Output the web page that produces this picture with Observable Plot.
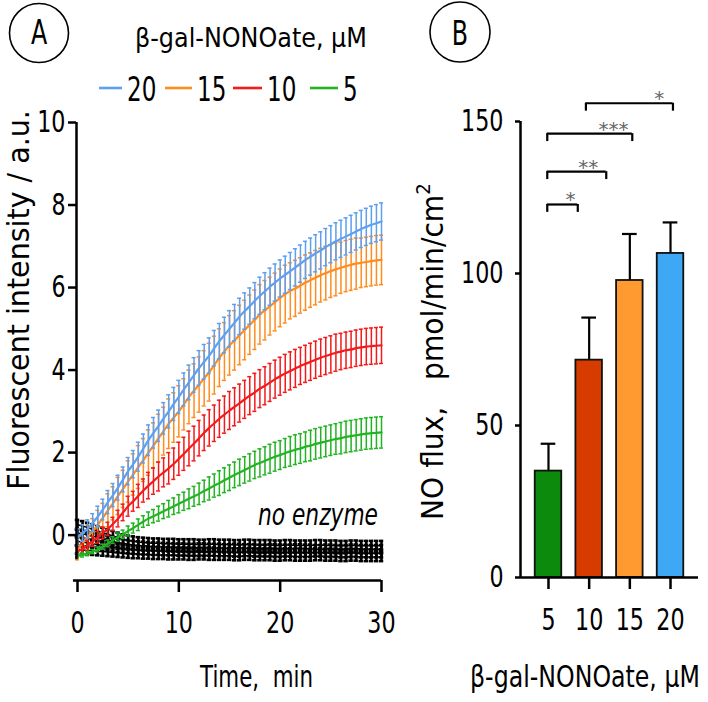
<!DOCTYPE html>
<html><head><meta charset="utf-8">
<script src="https://cdn.jsdelivr.net/npm/d3@7"></script>
<script src="https://cdn.jsdelivr.net/npm/@observablehq/plot@0.6"></script>
<style>
html,body{margin:0;padding:0;background:#fff;}
#wrap{position:relative;width:708px;height:702px;overflow:hidden;background:#fff;}
#wrap > svg{position:absolute;}
</style></head><body><div id="wrap"></div>
<script>
// ---------------- DATA ----------------
const times = d3.range(0, 30.001, 0.5); // sampling every 0.5 min
const concentrations = ["20", "15", "10", "5"];
const lineColors = ["#5e9ff0", "#ff8c1f", "#f21a1a", "#22b322"];

const mean20 = [-0.05,0.05,0.15,0.3,0.45,0.62,0.8,0.97,1.15,1.35,
  1.55,1.72,1.9,2.1,2.3,2.48,2.65,2.83,3.0,3.18,
  3.35,3.53,3.7,3.88,4.05,4.2,4.35,4.53,4.7,4.85,
  5.0,5.15,5.3,5.43,5.55,5.68,5.8,5.91,6.02,6.12,
  6.22,6.31,6.4,6.49,6.58,6.67,6.75,6.83,6.9,6.98,
  7.05,7.12,7.18,7.24,7.3,7.36,7.42,7.47,7.52,7.56,7.6];
const mean15 = [-0.35,-0.2,-0.05,0.1,0.25,0.42,0.6,0.77,0.95,1.12,
  1.3,1.47,1.65,1.82,2.0,2.17,2.35,2.52,2.7,2.85,
  3.0,3.17,3.35,3.5,3.65,3.8,3.95,4.12,4.3,4.45,
  4.6,4.72,4.85,4.97,5.1,5.22,5.35,5.45,5.55,5.65,
  5.75,5.84,5.92,5.98,6.05,6.12,6.18,6.24,6.3,6.35,
  6.4,6.44,6.48,6.52,6.55,6.58,6.6,6.62,6.64,6.66,6.67];
const mean10 = [-0.4,-0.33,-0.25,-0.15,-0.05,0.05,0.15,0.27,0.4,0.55,
  0.7,0.82,0.95,1.08,1.2,1.31,1.42,1.52,1.62,1.73,
  1.85,1.97,2.1,2.22,2.35,2.48,2.6,2.71,2.82,2.92,
  3.02,3.11,3.2,3.29,3.38,3.46,3.55,3.62,3.7,3.78,
  3.85,3.92,3.98,4.04,4.1,4.15,4.2,4.25,4.3,4.34,
  4.38,4.42,4.45,4.48,4.5,4.53,4.55,4.57,4.58,4.59,4.6];
const mean5 = [-0.5,-0.48,-0.45,-0.4,-0.35,-0.28,-0.2,-0.12,-0.05,0.02,
  0.1,0.17,0.25,0.33,0.4,0.46,0.52,0.58,0.64,0.7,
  0.76,0.82,0.88,0.94,1.0,1.07,1.13,1.2,1.26,1.33,
  1.39,1.46,1.52,1.58,1.64,1.7,1.75,1.8,1.85,1.9,
  1.94,1.99,2.03,2.07,2.1,2.14,2.17,2.21,2.24,2.27,
  2.3,2.33,2.35,2.38,2.4,2.42,2.44,2.46,2.47,2.48,2.49];

// SD read per whole minute (applies to both samples of that minute)
const sd20 = [0.2,0.22,0.25,0.28,0.3,0.33,0.35,0.37,0.38,0.4,0.4,0.42,0.42,0.43,0.43,0.44,0.44,0.44,0.45,0.45,0.45,0.45,0.45,0.45,0.45,0.45,0.45,0.45,0.45,0.45,0.45];
const sd15 = [0.25,0.3,0.35,0.4,0.45,0.5,0.52,0.55,0.58,0.6,0.62,0.65,0.67,0.7,0.7,0.72,0.72,0.72,0.72,0.7,0.7,0.68,0.67,0.66,0.65,0.64,0.62,0.62,0.6,0.6,0.6];
const sd10 = [0.12,0.12,0.14,0.16,0.2,0.24,0.28,0.32,0.35,0.38,0.4,0.42,0.43,0.44,0.45,0.46,0.46,0.46,0.46,0.46,0.46,0.46,0.45,0.45,0.45,0.45,0.44,0.44,0.44,0.44,0.44];
const sd5  = [0.05,0.05,0.06,0.08,0.1,0.12,0.14,0.16,0.18,0.2,0.22,0.24,0.26,0.28,0.3,0.31,0.32,0.33,0.34,0.35,0.35,0.36,0.36,0.37,0.37,0.37,0.38,0.38,0.38,0.38,0.38];

// "no enzyme" controls
const noEnz1 = [0.25,0.22,0.18,0.14,0.10,0.06,0.02,-0.02,-0.06,-0.10,
  -0.13,-0.15,-0.17,-0.18,-0.19,-0.20,-0.20,-0.21,-0.21,-0.21,
  -0.22,-0.22,-0.22,-0.22,-0.23,-0.23,-0.22,-0.22,-0.23,-0.23,
  -0.23,-0.24,-0.24,-0.23,-0.23,-0.24,-0.24,-0.24,-0.24,-0.25,
  -0.25,-0.24,-0.24,-0.25,-0.25,-0.25,-0.25,-0.24,-0.24,-0.25,
  -0.25,-0.25,-0.26,-0.26,-0.25,-0.25,-0.26,-0.26,-0.26,-0.26,-0.26];
const noEnz2 = [0.05,0.03,0.0,-0.03,-0.06,-0.09,-0.12,-0.15,-0.18,-0.2,
  -0.22,-0.24,-0.25,-0.26,-0.27,-0.28,-0.28,-0.29,-0.29,-0.3,
  -0.3,-0.3,-0.31,-0.31,-0.3,-0.3,-0.31,-0.31,-0.31,-0.32,
  -0.32,-0.31,-0.31,-0.32,-0.32,-0.32,-0.33,-0.33,-0.32,-0.32,
  -0.33,-0.33,-0.33,-0.32,-0.32,-0.33,-0.33,-0.34,-0.34,-0.33,
  -0.33,-0.34,-0.34,-0.34,-0.33,-0.33,-0.34,-0.34,-0.34,-0.34,-0.34];
const noEnz3 = [-0.15,-0.17,-0.19,-0.21,-0.23,-0.25,-0.27,-0.29,-0.31,-0.33,
  -0.34,-0.35,-0.36,-0.37,-0.37,-0.38,-0.38,-0.39,-0.39,-0.39,
  -0.4,-0.4,-0.4,-0.4,-0.41,-0.41,-0.4,-0.4,-0.41,-0.41,
  -0.41,-0.42,-0.42,-0.41,-0.41,-0.42,-0.42,-0.42,-0.42,-0.43,
  -0.43,-0.42,-0.42,-0.43,-0.43,-0.43,-0.43,-0.42,-0.42,-0.43,
  -0.43,-0.43,-0.44,-0.44,-0.43,-0.43,-0.44,-0.44,-0.44,-0.44,-0.44];
const noEnz4 = [-0.35,-0.36,-0.37,-0.38,-0.39,-0.4,-0.41,-0.42,-0.43,-0.44,
  -0.45,-0.46,-0.46,-0.47,-0.47,-0.48,-0.48,-0.48,-0.49,-0.49,
  -0.49,-0.49,-0.5,-0.5,-0.49,-0.49,-0.5,-0.5,-0.5,-0.5,
  -0.5,-0.51,-0.51,-0.5,-0.5,-0.51,-0.51,-0.51,-0.51,-0.52,
  -0.52,-0.51,-0.51,-0.52,-0.52,-0.52,-0.52,-0.51,-0.51,-0.52,
  -0.52,-0.52,-0.53,-0.53,-0.52,-0.52,-0.53,-0.53,-0.53,-0.53,-0.53];
const noEnzSd = [0.12, 0.1, 0.1, 0.1];

// Panel B: NO flux bars
const barConc = [5, 10, 15, 20];
const barMean = [35, 71.5, 97.7, 106.6];
const barErr  = [9, 14, 15.3, 10.2];
const barColors = ["#0b8a0b", "#d63c00", "#ff9a30", "#3ea8f4"];
const tickLabelsB = ["5", "10", "15", "20"];
const brackets = [
  {from: 4.85, to: 8.6,  level: 122.7, label: "*",   at: 7.7},
  {from: 4.85, to: 12.1, level: 133.5, label: "**",  at: 9.9},
  {from: 4.85, to: 15.3, level: 146,   label: "***", at: 13},
  {from: 9.6,  to: 20.3, level: 156,   label: "*",   at: 18.6}
];

// ---------------- LAYOUT ----------------
const FONT = '"DejaVu Sans", sans-serif';
const wrap = document.getElementById("wrap");

const means = {"20": mean20, "15": mean15, "10": mean10, "5": mean5};
const sds = {"20": sd20, "15": sd15, "10": sd10, "5": sd5};
const colorOf = Object.fromEntries(concentrations.map((c, i) => [c, lineColors[i]]));

function rowsFor(meanArr, sdFn) {
  return meanArr.map((m, i) => ({t: times[i], mean: m, sd: sdFn(i)}));
}
function seriesMarks(rows, color, barW, capHalf, lineW) {
  return [
    Plot.ruleX(rows, {x: "t", y1: d => d.mean - d.sd, y2: d => d.mean + d.sd, stroke: color, strokeWidth: barW}),
    Plot.ruleY(rows, {y: d => d.mean + d.sd, x1: d => d.t - capHalf, x2: d => d.t + capHalf, stroke: color, strokeWidth: barW}),
    Plot.ruleY(rows, {y: d => d.mean - d.sd, x1: d => d.t - capHalf, x2: d => d.t + capHalf, stroke: color, strokeWidth: barW}),
    Plot.line(rows, {x: "t", y: "mean", stroke: color, strokeWidth: lineW, curve: "monotone-x"})
  ];
}

const blackMarks = [noEnz1, noEnz2, noEnz3, noEnz4].flatMap((arr, k) =>
  seriesMarks(rowsFor(arr, () => noEnzSd[k]), "#000", 2.6, 0.22, 1.5));

const drawOrder = ["15", "20", "10", "5"];
const colorMarks = drawOrder.flatMap(c =>
  seriesMarks(rowsFor(means[c], i => sds[c][Math.floor(i / 2)]), colorOf[c], 1.5, 0.2, 2.2));

const axisFont = {fontFamily: FONT, fontSize: 30};
const yDomA = [-1.1, 10];
const plotA = Plot.plot({
  width: 420, height: 702,
  marginLeft: 77, marginRight: 39, marginTop: 122, marginBottom: 122,
  x: {domain: [0, 30]},
  y: {domain: yDomA},
  style: {fontFamily: FONT, fontSize: "30px", color: "#000", background: "transparent"},
  marks: [
    ...blackMarks,
    ...colorMarks,
    Plot.ruleY([yDomA[0]], {x1: -0.4, x2: 30, stroke: "#000", strokeWidth: 2.5}),
    Plot.ruleX([0], {y1: -0.6, y2: 10, stroke: "#000", strokeWidth: 2.5, dx: -1}),
    Plot.axisX({ticks: [0, 10, 20, 30], tickSize: 12, tickPadding: 19, strokeWidth: 2.5, label: null, ...axisFont}),
    Plot.axisY({ticks: [0, 2, 4, 6, 8, 10], tickSize: 8, tickPadding: 3, strokeWidth: 2.5, label: null, dx: -1, ...axisFont})
  ]
});
plotA.style.left = "0px"; plotA.style.top = "0px";
wrap.appendChild(plotA);

const barData = barConc.map((c, i) => ({conc: c, mean: barMean[i], err: barErr[i], color: barColors[i]}));
const xDomB = [1.56, 23.44];
const halfBar = 1.63, halfCap = 0.9, legLen = 2.6;
const plotB = Plot.plot({
  width: 288, height: 702,
  marginLeft: 100, marginRight: 10, marginTop: 121, marginBottom: 125,
  x: {domain: xDomB},
  y: {domain: [0, 150]},
  style: {fontFamily: FONT, fontSize: "30px", color: "#000", background: "transparent"},
  marks: [
    Plot.ruleX(barData, {x: "conc", y1: "mean", y2: d => d.mean + d.err, stroke: "#000", strokeWidth: 2.2}),
    Plot.ruleY(barData, {y: d => d.mean + d.err, x1: d => d.conc - halfCap, x2: d => d.conc + halfCap, stroke: "#000", strokeWidth: 2.2}),
    Plot.rectY(barData, {x1: d => d.conc - halfBar, x2: d => d.conc + halfBar, y1: 0, y2: "mean", fill: "color", stroke: "#111", strokeWidth: 1.8}),
    Plot.ruleY([0], {stroke: "#000", strokeWidth: 2.5}),
    Plot.ruleX([xDomB[0]], {y1: 0, y2: 150, stroke: "#000", strokeWidth: 2.5}),
    Plot.axisX({ticks: barConc, tickFormat: (d, i) => tickLabelsB[i], tickSize: 12, tickPadding: 19, strokeWidth: 2.5, label: null, ...axisFont}),
    Plot.axisY({ticks: [0, 50, 100, 150], tickSize: 5, tickPadding: 12, strokeWidth: 2.5, label: null, ...axisFont}),
    Plot.ruleY(brackets, {y: "level", x1: "from", x2: "to", stroke: "#000", strokeWidth: 2.2}),
    Plot.ruleX(brackets, {x: "from", y1: "level", y2: d => d.level - legLen, stroke: "#000", strokeWidth: 2.2}),
    Plot.ruleX(brackets, {x: "to", y1: "level", y2: d => d.level - legLen, stroke: "#000", strokeWidth: 2.2}),
    Plot.text(brackets, {x: "at", y: "level", text: "label", fontSize: 20, fill: "#666", lineAnchor: "bottom", dy: 2, fontFamily: FONT})
  ]
});
plotB.style.left = "420px"; plotB.style.top = "0px";
wrap.appendChild(plotB);

// condensed look for tick labels: squeeze glyphs horizontally
function condense(nodes, ratio) {
  nodes.each(function () {
    const w = this.getComputedTextLength();
    if (w > 0) {
      this.setAttribute("textLength", (w * ratio).toFixed(1));
      this.setAttribute("lengthAdjust", "spacingAndGlyphs");
    }
  });
}
for (const p of [plotA, plotB]) {
  const t = d3.select(p).selectAll('g[aria-label$="tick label"] text');
  t.style("font-family", FONT).style("font-variant", "normal");
  condense(t, 0.74);
}

// ---------------- ANNOTATIONS (titles, legend, axis titles) ----------------
const ov = d3.select(wrap).append("svg")
  .attr("width", 708).attr("height", 702)
  .style("left", "0px").style("top", "0px")
  .style("font-family", FONT);

// text placed at (x, y), optionally rotated, squeezed horizontally by a scale transform
// so that it is `len` wide (or `ratio` of its natural width)
function txt(x, y, s, size, opts = {}) {
  const t = ov.append("text").attr("x", 0).attr("y", 0).attr("font-size", size).attr("fill", "#000")
    .style("white-space", "pre").text(s);
  if (opts.anchor) t.attr("text-anchor", opts.anchor);
  if (opts.italic) t.attr("font-style", "italic");
  const w = t.node().getComputedTextLength();
  const sx = opts.len ? opts.len / w : (opts.ratio || 1);
  t.attr("transform", `translate(${x},${y})${opts.rotate ? ` rotate(${opts.rotate})` : ""} scale(${sx.toFixed(4)},1)`);
  return t;
}

// panel letters
ov.append("circle").attr("cx", 39).attr("cy", 33).attr("r", 29.5).attr("fill", "none").attr("stroke", "#000").attr("stroke-width", 1.6);
txt(39, 44, "A", 33, {anchor: "middle", ratio: 0.72});
ov.append("circle").attr("cx", 460).attr("cy", 32).attr("r", 30).attr("fill", "none").attr("stroke", "#000").attr("stroke-width", 1.6);
txt(460, 44.5, "B", 33, {anchor: "middle", ratio: 0.72});

// legend title + entries
txt(135, 47, "β-gal-NONOate, µM", 27, {len: 232});
const legendX = [99, 165, 233, 310];
const legendLine = [23, 27, 29, 28];
concentrations.forEach((c, i) => {
  ov.append("line").attr("x1", legendX[i]).attr("x2", legendX[i] + legendLine[i])
    .attr("y1", 88).attr("y2", 88).attr("stroke", lineColors[i]).attr("stroke-width", 2.6);
  txt(legendX[i] + legendLine[i] + 5, 101, c, 33, {ratio: 0.7});
});

// axis titles
txt(29, 300, "Fluorescent intensity / a.u.", 31, {anchor: "middle", len: 380, rotate: -90});
txt(200, 687, "Time,  min", 31, {len: 113});
txt(258, 525, "no enzyme", 31, {italic: true, len: 120});
txt(470, 687, "β-gal-NONOate, µM", 31, {len: 230});

// y title of panel B with superscript
const yb = ov.append("text").attr("x", 0).attr("y", 0)
  .attr("font-size", 31).attr("fill", "#000").style("white-space", "pre");
yb.append("tspan").text("NO flux,   pmol/min/cm");
yb.append("tspan").attr("font-size", 20).attr("dy", -13).text("2");
const ybW = yb.node().getComputedTextLength();
yb.attr("transform", `translate(443,520) rotate(-90) scale(${(337 / ybW).toFixed(4)},1)`);
</script></body></html>
